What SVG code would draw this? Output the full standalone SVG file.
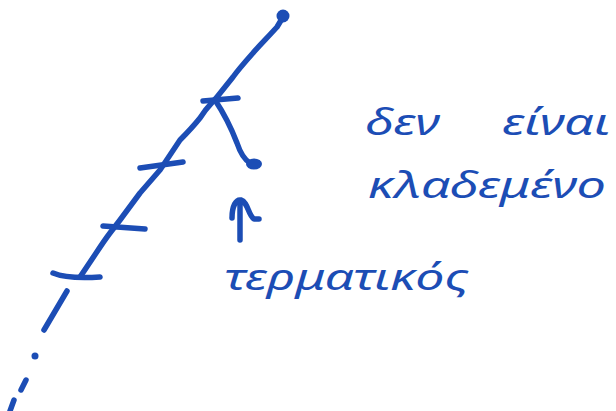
<svg xmlns="http://www.w3.org/2000/svg" width="616" height="411" viewBox="0 0 616 411">
<style>
.s{fill:none;stroke:#1c4db5;stroke-width:5.5;stroke-linecap:round;stroke-linejoin:round}
.t{font-family:"Noto Sans","DejaVu Sans",sans-serif;font-size:37px;fill:#1c4db5;font-style:italic}
</style>
<rect width="616" height="411" fill="#fff"/>
<g id="connectors">
<path class="s" d="M283,17 L277,27 C268,37 258,47 253,53 C245,62 238,70 233,77 L217,97 C212,103 207,107 200,118 C192,128 186,134 180,140 L160,170 L140,193 L120,220 L110,233 C103,242 95,255 80,277"/>
<path class="s" d="M215,100 C225,115 232,130 237,143 C240,152 245,160 250,163"/>
<path class="s" d="M67,291 L44,330"/>
<path class="s" d="M26,380 L21,390"/>
<path class="s" d="M14,400 L10,411"/>
<path class="s" d="M240,240 L240,202 M232,218 C232,206 236,199 241,200 C248,202 248,215 254,219 L259,219"/>
</g>
<g id="root"><circle cx="283" cy="16" r="6.5" fill="#1c4db5"/></g>
<g id="tick1"><path class="s" d="M203,101 L238,98"/></g>
<g id="tick2"><path class="s" d="M140,168 L183,162"/></g>
<g id="tick3"><path class="s" d="M103,226 L145,229"/></g>
<g id="tick4"><path class="s" d="M53,273 C65,278 85,278 100,277"/></g>
<g id="leaf"><ellipse cx="254" cy="164" rx="8" ry="5.5" fill="#1c4db5"/></g>
<g id="dot"><circle cx="35" cy="356" r="3.5" fill="#1c4db5"/></g>
<g id="labels">
<text class="t" x="365" y="135" textLength="75" lengthAdjust="spacingAndGlyphs">δεν</text>
<text class="t" x="502" y="135" textLength="108" lengthAdjust="spacingAndGlyphs">είναι</text>
<text class="t" x="368" y="198" textLength="238" lengthAdjust="spacingAndGlyphs">κλαδεμένο</text>
<text class="t" x="224" y="290" textLength="245" lengthAdjust="spacingAndGlyphs">τερματικός</text>
</g>
</svg>
